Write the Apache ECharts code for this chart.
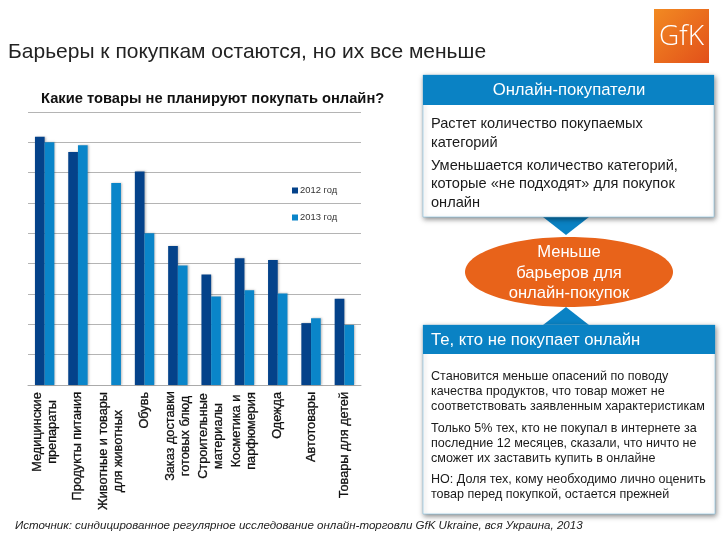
<!DOCTYPE html>
<html><head><meta charset="utf-8">
<style>html,body{margin:0;padding:0;background:#fff}#c{width:725px;height:533px}</style>
<script src="https://cdn.jsdelivr.net/npm/echarts@6/dist/echarts.min.js"></script>
</head><body><div id="c"></div>
<script>
const categories = [
  "{w80|Медицинские}\n{w80|препараты}",
  "Продукты питания",
  "{w118|Животные и товары}\n{w118|для животных}",
  "Обувь",
  "{w88|Заказ доставки}\n{w88|готовых блюд}",
  "{w88|Строительные}\n{w88|материалы}",
  "{w78|Косметика и}\n{w78|парфюмерия}",
  "Одежда",
  "Автотовары",
  "Товары для детей"
];
const values2012 = [40.9, 38.4, null, 35.2, 22.9, 18.2, 20.9, 20.6, 10.2, 14.2];
const values2013 = [40.0, 39.5, 33.3, 25.0, 19.7, 14.6, 15.6, 15.1, 11.0, 9.9];
const seriesNames = ["2012 год", "2013 год"];
const slideTitle = "Барьеры к покупкам остаются, но их все меньше";
const chartTitle = "Какие товары не планируют покупать онлайн?";
const sourceText = "Источник: синдицированное регулярное исследование онлайн-торговли GfK Ukraine, вся Украина, 2013";
const head1 = "Онлайн-покупатели";
const head2 = "Те, кто не покупает онлайн";
const box1Text = [
  {top:115, lines:"Растет количество покупаемых\nкатегорий"},
  {top:156.5, lines:"Уменьшается количество категорий,\nкоторые «не подходят» для покупок\nонлайн"}
];
const box2Text = [
  {top:369, lines:"Становится меньше опасений по поводу\nкачества продуктов, что товар может не\nсоответствовать заявленным характеристикам"},
  {top:421, lines:"Только 5% тех, кто не покупал в интернете за\nпоследние 12 месяцев, сказали, что ничто не\nсможет их заставить купить в онлайне"},
  {top:472, lines:"НО: Доля тех, кому необходимо лично оценить\nтовар перед покупкой, остается прежней"}
];
const ovalText = "Меньше\nбарьеров для\nонлайн-покупок";
const F = "Liberation Sans";
const BLUE = "#0a82c4";
const shadow = {shadowBlur:5, shadowColor:"rgba(0,0,0,0.45)", shadowOffsetX:1, shadowOffsetY:2};
const txt = (x,y,text,fs,extra) => ({type:"text", x, y, z:10, style:Object.assign({text, font:`${fs}px "${F}"`, fill:"#1a1a1a"}, extra||{})});
const graphic = [
  txt(8,42,slideTitle,21,{fill:"#222"}),
  txt(41,91,chartTitle,14.7,{font:`bold 14.7px "${F}"`,fill:"#111"}),
  txt(15,520,sourceText,11.56,{font:`italic 11.56px "${F}"`,fill:"#222"}),
  // logo
  {type:"rect", shape:{x:654,y:9,width:55,height:54}, style:{fill:{type:"linear",x:0,y:0,x2:1,y2:1,colorStops:[{offset:0,color:"#f28a22"},{offset:1,color:"#e2501a"}]}}},
  txt(681.5,37,"GfK",28,{fill:"#fff",align:"center",verticalAlign:"middle",font:`300 28px "Open Sans"`}),
  // connectors
  {type:"polygon", shape:{points:[[543,217],[589,217],[566,235]]}, style:{fill:BLUE}},
  {type:"polygon", shape:{points:[[543,325],[589,325],[566,307]]}, style:{fill:BLUE}},
  // box 1
  {type:"rect", shape:{x:423,y:75,width:291,height:142}, style:Object.assign({fill:"#fff",stroke:"#7fbfe0",lineWidth:0.6},shadow)},
  {type:"rect", shape:{x:423,y:75,width:291,height:30}, style:{fill:BLUE}},
  txt(569,90,head1,16.7,{fill:"#fff",align:"center",verticalAlign:"middle"}),
  ...box1Text.map(p=>txt(431,p.top,p.lines,14.6,{lineHeight:18.5})),
  // oval
  {type:"ellipse", shape:{cx:569,cy:272,rx:104,ry:35}, style:{fill:"#e8631a"}},
  txt(569,273,ovalText,16.6,{fill:"#fff",align:"center",verticalAlign:"middle",lineHeight:20.5}),
  // box 2
  {type:"rect", shape:{x:423,y:325,width:292,height:189}, style:Object.assign({fill:"#fff",stroke:"#7fbfe0",lineWidth:0.6},shadow)},
  {type:"rect", shape:{x:423,y:325,width:292,height:29}, style:{fill:BLUE}},
  txt(431,340,head2,16.7,{fill:"#fff",verticalAlign:"middle"}),
  ...box2Text.map(p=>txt(431,p.top,p.lines,12.55,{lineHeight:15}))
];
const barShadow = {shadowBlur:2, shadowColor:"rgba(0,0,0,0.25)", shadowOffsetX:1, shadowOffsetY:0};
const labelFont = {fontFamily:F,fontSize:12.7,color:"#111",lineHeight:15,textBorderColor:"#111",textBorderWidth:0.3};
const rich = {};
[80,118,88,78].forEach(w=>{rich["w"+w]=Object.assign({width:w,align:"center"},labelFont);});
const chart = echarts.init(document.getElementById("c"), null, {renderer:"canvas"});
chart.setOption({
  animation:false,
  backgroundColor:"#fff",
  textStyle:{fontFamily:F},
  grid:{left:28,top:112,width:333,height:273,containLabel:false},
  legend:{orient:"vertical",left:287,top:181,itemWidth:6,itemHeight:6,itemGap:18,icon:"rect",
    data:seriesNames,textStyle:{fontFamily:F,fontSize:9.4,color:"#333",padding:[0,0,0,-3]}},
  xAxis:{type:"category",data:categories,
    axisTick:{show:false},
    axisLine:{lineStyle:{color:"#aaa",width:1}},
    axisLabel:Object.assign({rotate:90,interval:0,margin:7,rich},labelFont)},
  yAxis:{type:"value",min:0,max:45,interval:5,
    axisLabel:{show:false},axisTick:{show:false},axisLine:{show:false},
    splitLine:{show:true,lineStyle:{color:"#b4b4b4",width:1}}},
  series:[
    {name:seriesNames[0],type:"bar",data:values2012,barWidth:9.7,barGap:"0%",itemStyle:Object.assign({color:"#04428a"},barShadow)},
    {name:seriesNames[1],type:"bar",data:values2013,barWidth:9.7,itemStyle:Object.assign({color:"#0a85c9"},barShadow)}
  ],
  graphic:{elements:graphic}
});
</script></body></html>
